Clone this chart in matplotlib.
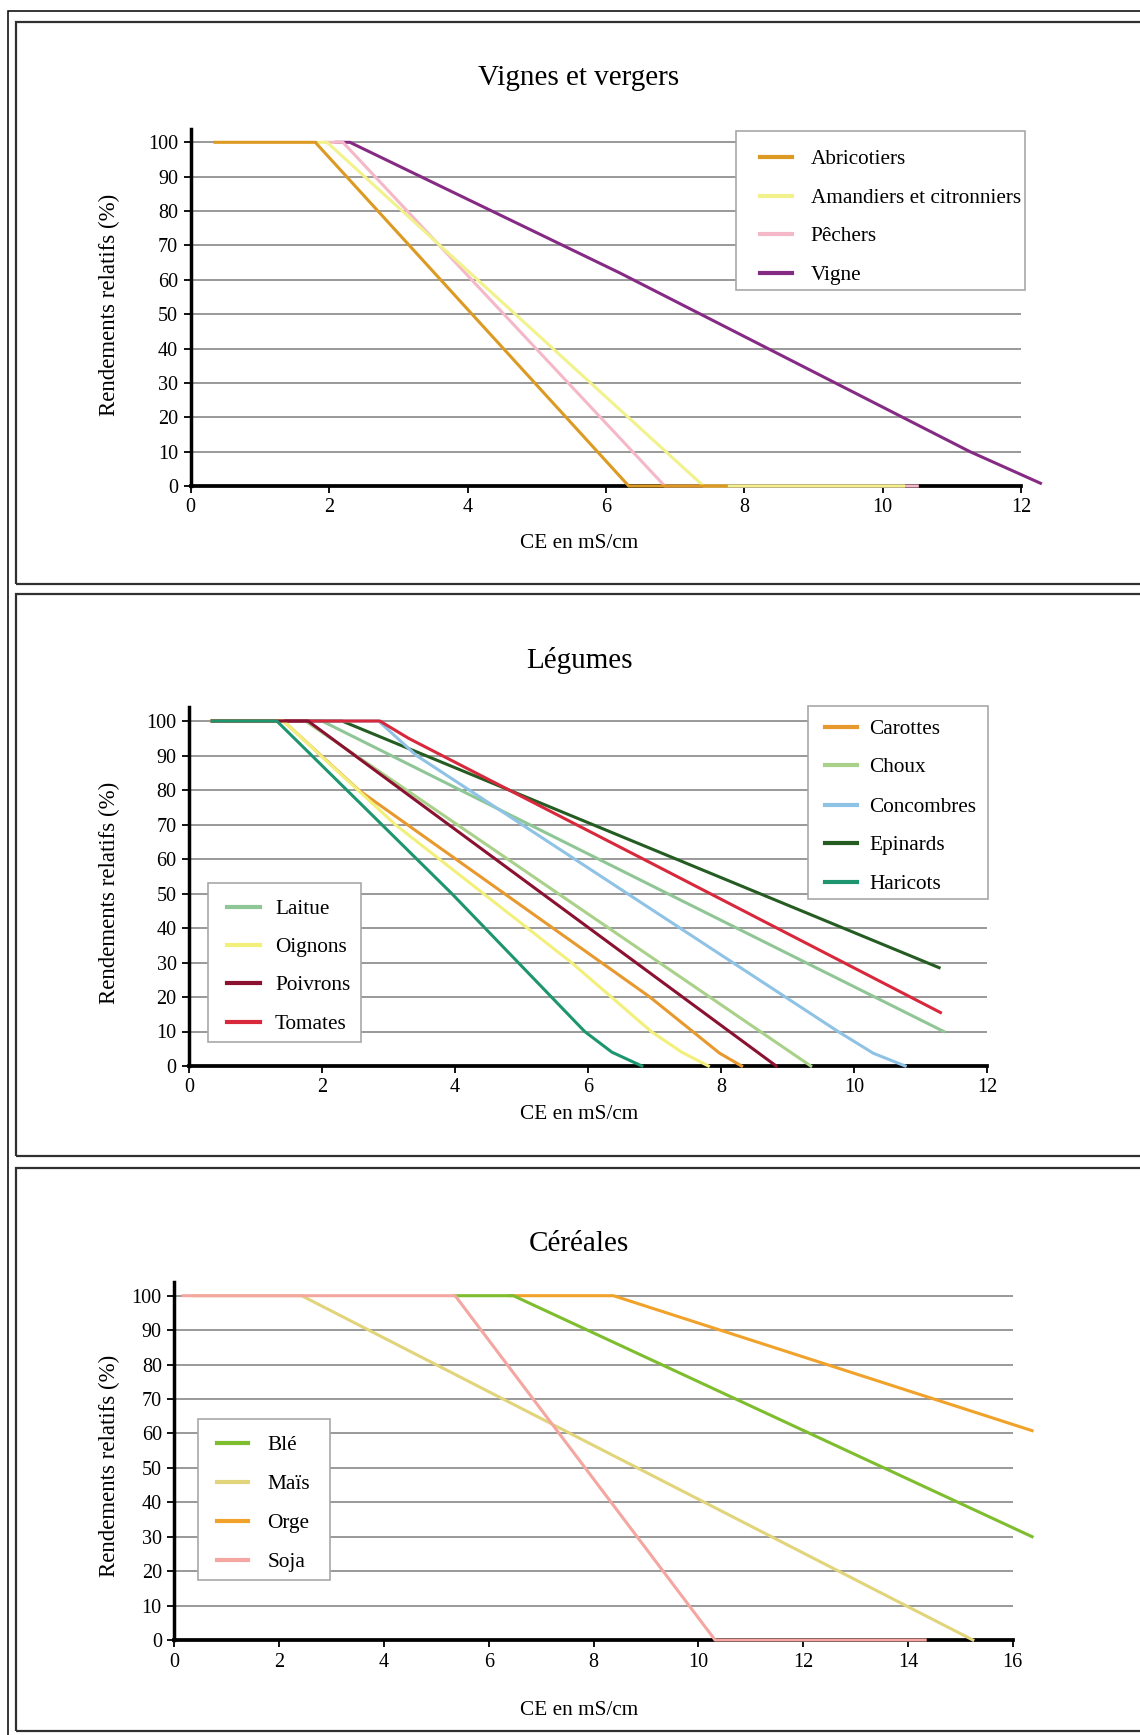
import matplotlib
matplotlib.use('Agg')
import matplotlib.pyplot as plt
from matplotlib.patches import Rectangle
from matplotlib.lines import Line2D

plt.rcParams['font.family'] = ['Liberation Serif', 'DejaVu Serif']

W, H = 1140, 1735

# ---- Vignes et vergers ----
vv_noms = ['Abricotiers', 'Amandiers et citronniers', 'Pêchers', 'Vigne']
vv_couleurs = ['#dc9a22', '#f2f28c', '#f5b8c8', '#862b84']
abricotiers_x = [0.35, 1.8, 6.33, 7.74]
abricotiers_y = [100, 100, 0, 0]
amandiers_x = [1.85, 1.97, 7.41, 10.3]
amandiers_y = [100, 100, 0, 0]
pechers_x = [1.95, 2.2, 6.85, 10.5]
pechers_y = [100, 100, 0, 0]
vigne_x = [2.1, 2.3, 6.2, 11.26, 12.28]
vigne_y = [100, 100, 62, 10, 0.8]

# ---- Légumes ----
leg_noms_droite = ['Carottes', 'Choux', 'Concombres', 'Epinards', 'Haricots']
leg_noms_gauche = ['Laitue', 'Oignons', 'Poivrons', 'Tomates']
leg_couleurs = {'Carottes': '#e8992e', 'Choux': '#a9d18a', 'Concombres': '#8fc3e6',
                'Epinards': '#245c22', 'Haricots': '#1d9670', 'Laitue': '#8ec795',
                'Oignons': '#f2f07a', 'Poivrons': '#8a1230', 'Tomates': '#d8283c'}
carottes_x = [0.35, 1.42, 2.55, 6.93, 7.98, 8.31]
carottes_y = [100, 100, 80, 20, 3.7, 0]
choux_x = [0.35, 1.75, 9.35]
choux_y = [100, 100, 0]
concombres_x = [0.35, 2.85, 3.42, 9.76, 10.29, 10.77]
concombres_y = [100, 100, 90, 10, 3.7, 0]
epinards_x = [0.35, 2.3, 11.28]
epinards_y = [100, 100, 28.5]
haricots_x = [0.35, 1.32, 3.95, 5.95, 6.36, 6.81]
haricots_y = [100, 100, 50, 10, 4, 0]
laitue_x = [0.35, 2.0, 11.35]
laitue_y = [100, 100, 10]
oignons_x = [0.35, 1.42, 3.1, 5.75, 6.95, 7.41, 7.81]
oignons_y = [100, 100, 70, 30, 10, 4, 0]
poivrons_x = [0.35, 1.79, 8.83]
poivrons_y = [100, 100, 0]
tomates_x = [0.35, 2.87, 3.3, 6.93, 11.3]
tomates_y = [100, 100, 95, 59, 15.5]

# ---- Céréales ----
cer_noms = ['Blé', 'Maïs', 'Orge', 'Soja']
cer_couleurs = ['#7dbd2e', '#e2d47a', '#f0a22a', '#f4a6a0']
ble_x = [5.36, 6.47, 16.37]
ble_y = [100, 100, 30]
mais_x = [0.36, 2.43, 15.24]
mais_y = [100, 100, 0]
orge_x = [6.4, 8.38, 16.37]
orge_y = [100, 100, 60.8]
soja_x = [0.17, 5.36, 10.32, 14.33]
soja_y = [100, 100, 0, 0]

fig = plt.figure(figsize=(W / 100, H / 100), dpi=100)


def fx(x):
    return x / W


def fy(y):
    return 1 - y / H


def cadre(x0, y0, x1, y1, lw, color, fill=False, z=1):
    fig.add_artist(Rectangle((fx(x0), fy(y1)), fx(x1) - fx(x0), fy(y0) - fy(y1),
                             transform=fig.transFigure, fill=fill, facecolor='white',
                             lw=lw, edgecolor=color, zorder=z))


def axes(left, right, y0, y100, xmax):
    ymax = 104
    top = y0 - (y0 - y100) * ymax / 100
    ax = fig.add_axes([fx(left), fy(y0), fx(right) - fx(left), (y0 - top) / H])
    ax.set_xlim(0, xmax)
    ax.set_ylim(0, ymax)
    ax.set_xticks(range(0, xmax + 1, 2))
    ax.set_yticks(range(0, 101, 10))
    for s in ['top', 'right']:
        ax.spines[s].set_visible(False)
    ax.spines['left'].set_linewidth(2.5)
    ax.spines['bottom'].set_linewidth(2.7)
    ax.tick_params(length=5, width=1.3, labelsize=14.5, pad=4, color='black')
    ax.yaxis.grid(True, color='#878787', lw=1.2)
    ax.set_axisbelow(True)
    ax.patch.set_alpha(0)
    return ax


def legende(x0, y0, x1, y1, rangs, hx0, hx1, tx, noms, couleurs):
    cadre(x0, y0, x1, y1, 1.2, '#a8a8a8', fill=True, z=1)
    for r, n, c in zip(rangs, noms, couleurs):
        fig.add_artist(Line2D([fx(hx0), fx(hx1)], [fy(r), fy(r)], transform=fig.transFigure,
                              color=c, lw=3, zorder=2))
        fig.text(fx(tx), fy(r + 7), n, fontsize=15.3, va='baseline', zorder=3)


def textes(titre, base_titre, base_xlabel, centre_ylabel):
    fig.text(fx(579), fy(base_titre), titre, fontsize=21, ha='center', va='baseline')
    fig.text(fx(579), fy(base_xlabel), 'CE en mS/cm', fontsize=15.3, ha='center', va='baseline')
    fig.text(fx(109), fy(centre_ylabel), 'Rendements relatifs (%)', fontsize=16.5,
             rotation=90, ha='center', va='center')


# cadres
cadre(8, 10.7, 1200, 1760, 1.1, 'black')
cadre(16, 21.7, 1200, 584.3, 1.6, '#303030')
cadre(16, 594.3, 1200, 1156, 1.6, '#303030')
cadre(16, 1167.5, 1200, 1731, 1.6, '#303030')

# graphique 1
ax1 = axes(190.7, 1021.1, 486, 142.3, 12)
for x, y, c in [(vigne_x, vigne_y, vv_couleurs[3]), (pechers_x, pechers_y, vv_couleurs[2]),
                (amandiers_x, amandiers_y, vv_couleurs[1]),
                (abricotiers_x, abricotiers_y, vv_couleurs[0])]:
    ax1.plot(x, y, color=c, lw=2.2, clip_on=False, zorder=3)
textes('Vignes et vergers', 84.7, 547.6, 305)
legende(735.7, 131, 1025, 290, [156.7, 195.7, 234, 272.7], 760, 792, 810.7,
        vv_noms, vv_couleurs)

# graphique 2
ax2 = axes(189, 987, 1066, 721, 12)
series2 = [('Choux', choux_x, choux_y), ('Laitue', laitue_x, laitue_y),
           ('Epinards', epinards_x, epinards_y), ('Concombres', concombres_x, concombres_y),
           ('Tomates', tomates_x, tomates_y), ('Carottes', carottes_x, carottes_y),
           ('Oignons', oignons_x, oignons_y), ('Poivrons', poivrons_x, poivrons_y),
           ('Haricots', haricots_x, haricots_y)]
for nom, x, y in series2:
    ax2.plot(x, y, color=leg_couleurs[nom], lw=2.2, clip_on=False, zorder=3)
textes('Légumes', 668, 1119.4, 893)
legende(807.7, 706, 987.7, 899.3, [726.7, 765, 805, 843.3, 881.7], 825, 857.3, 869.3,
        leg_noms_droite, [leg_couleurs[n] for n in leg_noms_droite])
legende(208.3, 882.7, 361, 1041.7, [906.7, 945, 982.7, 1021.7], 226.7, 260, 275,
        leg_noms_gauche, [leg_couleurs[n] for n in leg_noms_gauche])

# graphique 3
ax3 = axes(174.3, 1012.7, 1640, 1295.7, 16)
for x, y, c in [(orge_x, orge_y, cer_couleurs[2]), (ble_x, ble_y, cer_couleurs[0]),
                (mais_x, mais_y, cer_couleurs[1]), (soja_x, soja_y, cer_couleurs[3])]:
    ax3.plot(x, y, color=c, lw=2.2, clip_on=False, zorder=3)
textes('Céréales', 1250.7, 1714.5, 1466)
legende(197.7, 1419.3, 330, 1580, [1442.7, 1481.7, 1520.7, 1560], 216.7, 247.7, 267.3,
        cer_noms, cer_couleurs)

fig.savefig('out.png', dpi=100)
